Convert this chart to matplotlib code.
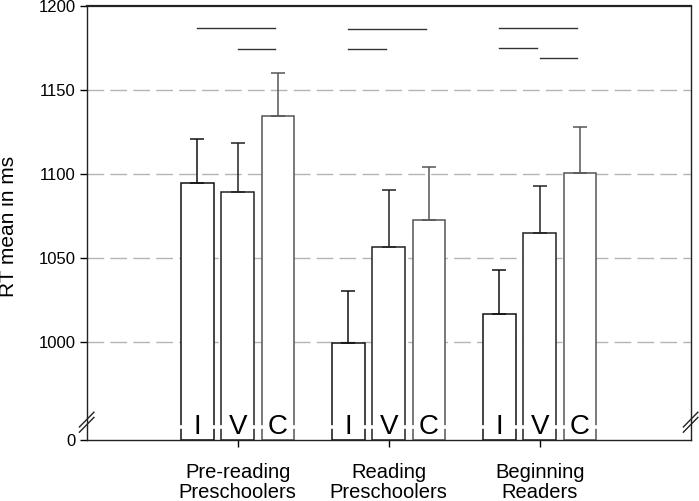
import matplotlib
matplotlib.use("Agg")
import matplotlib.pyplot as plt
import numpy as np

plt.rcParams['font.family'] = ['Liberation Sans', 'DejaVu Sans']

# ---- data ----
groups = ["Pre-reading\nPreschoolers", "Reading\nPreschoolers", "Beginning\nReaders"]
conditions = ["I", "V", "C"]
means_I = [1094.9, 999.6, 1016.7]
means_V = [1089.5, 1056.8, 1065.1]
means_C = [1134.3, 1072.6, 1100.6]
err_I = [26.2, 30.6, 26.0]
err_V = [29.2, 33.7, 27.6]
err_C = [26.1, 31.4, 27.6]
# significance lines: (group index, from condition, to condition, height in ms)
sig_group = [0, 0, 1, 1, 2, 2, 2]
sig_from = ["I", "V", "I", "I", "I", "I", "V"]
sig_to = ["C", "C", "C", "V", "C", "V", "C"]
sig_level = [1186.9, 1174.4, 1186.1, 1174.6, 1186.9, 1175.2, 1169.0]
ytick_values = [1000, 1050, 1100, 1150, 1200]
axis_floor = 941.7   # value shown as "0" below the axis break

means = [means_I, means_V, means_C]
errs = [err_I, err_V, err_C]

fig = plt.figure(figsize=(6.99, 5.01), dpi=100)
ax = fig.add_axes([0.124, 0.1218, 0.864, 0.8662])

group_x = np.arange(1, len(groups) + 1)
offsets = {"I": -0.266, "V": 0.0, "C": 0.266}
width = 0.215
edge_cols = {"I": "#111111", "V": "#222222", "C": "#555555"}

ax.set_xlim(0, 4)
ax.set_ylim(axis_floor, 1200)

# grid
for v in ytick_values[:-1]:
    ax.axhline(v, color="#b4b4b4", lw=1.0, dashes=(12, 4.5), zorder=0)

for ci, cond in enumerate(conditions):
    xs = group_x + offsets[cond]
    ax.bar(xs, np.array(means[ci]) - axis_floor, bottom=axis_floor, width=width,
           color="white", edgecolor=edge_cols[cond], linewidth=1.1, zorder=2)
    ax.errorbar(xs, means[ci], yerr=[np.zeros(len(xs)), errs[ci]], fmt="none",
                ecolor=edge_cols[cond], elinewidth=1.1, capsize=4.7, capthick=1.1, zorder=3)
    # small white gap across the bar edges behind the letters
    ax.hlines(np.full(len(xs), axis_floor + 7.6), xs - width / 2 - 0.012, xs + width / 2 + 0.012,
              color="white", lw=2.6, zorder=3.5)
    for x in xs:
        ax.text(x, 945.5, cond, ha="center", va="baseline", fontsize=20, zorder=4)

for g, a, b, lev in zip(sig_group, sig_from, sig_to, sig_level):
    x0 = group_x[g] + offsets[a]
    x1 = group_x[g] + offsets[b] - 0.02
    ax.plot([x0, x1], [lev, lev], color="#333333", lw=1.0, zorder=3)

# axes styling
for s in ["left", "right", "bottom"]:
    ax.spines[s].set_linewidth(1.0)
    ax.spines[s].set_color("#222222")
ax.spines["top"].set_linewidth(1.6)
ax.spines["top"].set_color("#222222")

ax.set_yticks([axis_floor] + ytick_values)
ax.set_yticklabels(["0"] + [str(v) for v in ytick_values], fontsize=12)
ax.tick_params(axis="y", length=5, width=1.0, pad=3)
ax.set_xticks(group_x)
ax.set_xticklabels(groups, fontsize=14.5, linespacing=1.08)
ax.tick_params(axis="x", length=5, width=1.0, pad=11.5)
ax.set_ylabel("RT mean in ms", fontsize=15)
ax.yaxis.set_label_coords(-0.114, 0.493)

# axis break marks
trans = ax.transAxes
kw = dict(transform=trans, color="#222222", lw=1.0, clip_on=False)
for xa in (0.0, 1.0):
    for dy in (0.0, 0.012):
        ax.plot([xa - 0.012, xa + 0.012], [0.018 + dy, 0.052 + dy], **kw)

fig.savefig("out.png", dpi=100)
